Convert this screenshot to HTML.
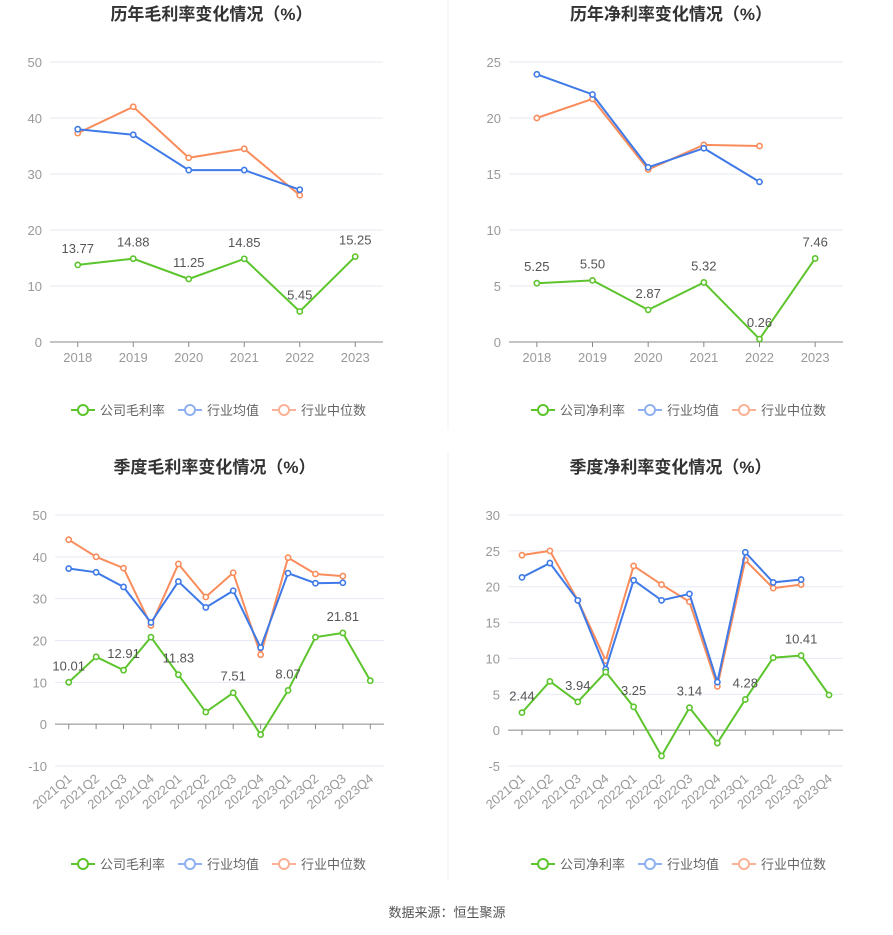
<!DOCTYPE html>
<html><head><meta charset="utf-8"><style>
body{margin:0;background:#fff;width:893px;height:935px;overflow:hidden;font-family:"Liberation Sans","Noto Sans CJK SC",sans-serif}
svg{position:absolute;left:0;top:0}
</style></head><body>
<svg id="s" width="893" height="935" xmlns="http://www.w3.org/2000/svg"></svg>
<script>
// ---- data ----
const yearCats=["2018","2019","2020","2021","2022","2023"];
const qCats=["2021Q1","2021Q2","2021Q3","2021Q4","2022Q1","2022Q2","2022Q3","2022Q4","2023Q1","2023Q2","2023Q3","2023Q4"];
const c1Company=[13.77,14.88,11.25,14.85,5.45,15.25];
const c1Avg=[38,37,30.7,30.7,27.2,null];
const c1Median=[37.3,42,32.9,34.5,26.2,null];
const c1Ticks=[0,10,20,30,40,50];
const c2Company=[5.25,5.50,2.87,5.32,0.26,7.46];
const c2Avg=[23.9,22.1,15.6,17.3,14.3,null];
const c2Median=[20,21.7,15.4,17.6,17.5,null];
const c2Ticks=[0,5,10,15,20,25];
const c3Company=[10.01,16.1,12.91,20.8,11.83,2.9,7.51,-2.5,8.07,20.8,21.81,10.4];
const c3Avg=[37.2,36.3,32.8,24.3,34.1,27.9,31.9,18.3,36.1,33.7,33.8,null];
const c3Median=[44.1,40,37.3,23.6,38.3,30.4,36.2,16.6,39.8,35.9,35.4,null];
const c3Ticks=[-10,0,10,20,30,40,50];
const c4Company=[2.44,6.8,3.94,8.1,3.25,-3.6,3.14,-1.8,4.28,10.1,10.41,4.9];
const c4Avg=[21.3,23.3,18.1,8.5,20.9,18.1,19.0,6.7,24.8,20.6,21.0,null];
const c4Median=[24.4,25.0,18.1,9.7,22.9,20.3,17.9,6.1,23.7,19.8,20.3,null];
const c4Ticks=[-5,0,5,10,15,20,25,30];

const NS="http://www.w3.org/2000/svg";
const svg=document.getElementById('s');
function mk(tag,attrs,parent,text){const e=document.createElementNS(NS,tag);for(const k in attrs)e.setAttribute(k,attrs[k]);if(text!==undefined)e.textContent=text;(parent||svg).appendChild(e);return e;}
const GREEN="#5cc42c",BLUE="#3f7ae8",ORANGE="#f98c5c";

function chart(o){
  const g=mk('g',{});
  
  
  const ymin=o.ticks[0],ymax=o.ticks[o.ticks.length-1];
  const y=v=>o.yTop+(ymax-v)/(ymax-ymin)*(o.yBot-o.yTop);
  const n=o.cats.length,bw=(o.x1-o.x0)/n;
  const x=i=>o.x0+bw*(i+0.5);
  const t=mk('text',{x:(o.x0+o.x1)/2-5,y:o.titleY,'text-anchor':'middle','font-size':17,'font-weight':'bold',fill:'#333'},g,o.title);
  
  
  o.ticks.forEach(v=>{
    if(v!==0){const l=mk('line',{x1:o.x0,x2:o.x1,y1:y(v),y2:y(v),stroke:'#e6e9f2','stroke-width':1},g);
    
    }
    const tl=mk('text',{x:o.x0-8,y:y(v)+5,'text-anchor':'end','font-size':13,fill:'#999'},g,String(v));
    
    
  });
  const ax=mk('line',{x1:o.x0,x2:o.x1,y1:y(0),y2:y(0),stroke:'#888','stroke-width':1},g);
  
  
  o.cats.forEach((c,i)=>{
    const tk=mk('line',{x1:x(i),x2:x(i),y1:y(0),y2:y(0)+5,stroke:'#888'},g);
    
    
    let tl;
    if(o.rot){tl=mk('text',{x:x(i)+4,y:o.yBot+14,'text-anchor':'end','font-size':13,fill:'#999',transform:`rotate(-40 ${x(i)+4} ${o.yBot+14})`},g,c);}
    else tl=mk('text',{x:x(i),y:y(0)+20,'text-anchor':'middle','font-size':13,fill:'#999'},g,c);
    
    
  });
  const series=[[o.median,ORANGE,'median-line'],[o.avg,BLUE,'average-line'],[o.comp,GREEN,'company-line']];
  series.forEach(([d,col,nm])=>{
    let pts=[];d.forEach((v,i)=>{if(v!==null)pts.push(x(i)+','+y(v));});
    const p=mk('polyline',{points:pts.join(' '),fill:'none',stroke:col,'stroke-width':2},g);
    
    
    d.forEach((v,i)=>{if(v===null)return;
      const c=mk('circle',{cx:x(i),cy:y(v),r:2.6,fill:'#fff',stroke:col,'stroke-width':1.6},g);
      
      
    });
  });
  o.comp.forEach((v,i)=>{
    if(o.labelEvery&&i%2!==0)return;
    if(i===o.cats.length-1&&o.labelEvery)return;
    const l=mk('text',{x:x(i),y:y(v)-12,'text-anchor':'middle','font-size':13,fill:'#555'},g,v.toFixed(2));
    
    
  });
  // legend
  const lx=o.legendX,ly=o.legendY;
  const items=[[GREEN,o.compName,0],["#8fb0f2","行业均值",107],["#fab196","行业中位数",201]];
  items.forEach(([col,txt,dx])=>{
    const lg=mk('g',{},g);
    
    
    mk('line',{x1:lx+dx,x2:lx+dx+24,y1:ly,y2:ly,stroke:col,'stroke-width':2},lg);
    mk('circle',{cx:lx+dx+12,cy:ly,r:5,fill:'#fff',stroke:col,'stroke-width':2},lg);
    mk('text',{x:lx+dx+29,y:ly+5,'font-size':13,fill:'#666'},lg,txt);
  });
}
chart({name:'annual-gross-margin-chart',title:'历年毛利率变化情况（%）',titleY:20,cats:yearCats,comp:c1Company,avg:c1Avg,median:c1Median,ticks:c1Ticks,x0:50,x1:383,yTop:62,yBot:342,compName:'公司毛利率',legendX:71,legendY:410});
chart({name:'annual-net-margin-chart',title:'历年净利率变化情况（%）',titleY:20,cats:yearCats,comp:c2Company,avg:c2Avg,median:c2Median,ticks:c2Ticks,x0:509,x1:843,yTop:62,yBot:342,compName:'公司净利率',legendX:531,legendY:410});
chart({name:'quarterly-gross-margin-chart',title:'季度毛利率变化情况（%）',titleY:473,cats:qCats,comp:c3Company,avg:c3Avg,median:c3Median,ticks:c3Ticks,x0:55,x1:384,yTop:515,yBot:766,rot:true,labelEvery:true,compName:'公司毛利率',legendX:71,legendY:864});
chart({name:'quarterly-net-margin-chart',title:'季度净利率变化情况（%）',titleY:473,cats:qCats,comp:c4Company,avg:c4Avg,median:c4Median,ticks:c4Ticks,x0:508,x1:843,yTop:515,yBot:766,rot:true,labelEvery:true,compName:'公司净利率',legendX:531,legendY:864});
const dv=mk('line',{x1:448,x2:448,y1:0,y2:430,stroke:'#f0f0f0'});


const dv2=mk('line',{x1:448,x2:448,y1:452,y2:880,stroke:'#f0f0f0'});


const src=mk('text',{x:447,y:917,'text-anchor':'middle','font-size':13,fill:'#555'},svg,'数据来源：恒生聚源');


</script>
</body></html>
